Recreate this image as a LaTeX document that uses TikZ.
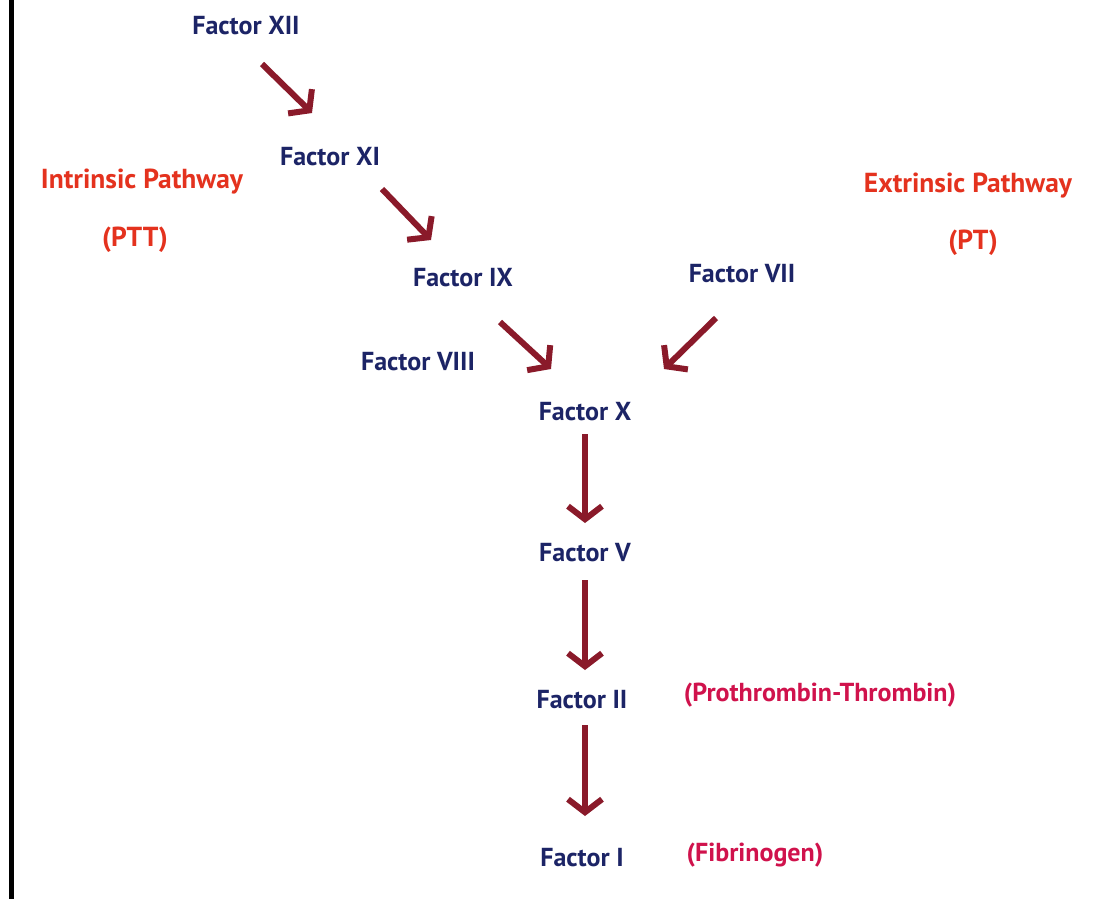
\documentclass[tikz,border=0pt]{standalone}
\usepackage{fontspec}
\setmainfont{PT Sans}
\usetikzlibrary{arrows.meta}
\definecolor{navy}{HTML}{1C2466}
\definecolor{pathred}{HTML}{E4321E}
\definecolor{crim}{HTML}{D0124C}
\definecolor{arr}{HTML}{8A1A2A}
\tikzset{
  fac/.style={font=\bfseries\fontsize{26}{29}\selectfont, text=navy, inner sep=0pt},
  path lbl/.style={font=\bfseries\fontsize{27.5}{30}\selectfont, text=pathred, inner sep=0pt},
  note/.style={font=\bfseries\fontsize{26}{29}\selectfont, text=crim, inner sep=0pt},
  flow/.style={draw=arr, line width=6pt, -{Straight Barb[length=13pt,width=34pt,line width=6pt]}},
}
\begin{document}
\begin{tikzpicture}[x=1pt,y=-1pt]
\useasboundingbox (0,0) rectangle (1114,899);
\fill[white] (0,0) rectangle (1114,899);
\draw[line width=5pt, black] (11,0) -- (11,899);
% nodes
\node[fac] (f12) at (246,26) {Factor XII};
\node[fac] (f11) at (330,157) {Factor XI};
\node[fac] (f9) at (463,278) {Factor IX};
\node[fac] (f7) at (742,274) {Factor VII};
\node[fac] (f8) at (418,362) {Factor VIII};
\node[fac] (f10) at (585,412) {Factor X};
\node[fac] (f5) at (585,553) {Factor V};
\node[fac] (f2) at (582,700) {Factor II};
\node[fac] (f1) at (582,858) {Factor I};
\node[path lbl] (ip) at (142,182) {Intrinsic Pathway};
\node[path lbl] (ptt) at (135,240) {(PTT)};
\node[path lbl] (ep) at (968,186) {Extrinsic Pathway};
\node[path lbl] (pt) at (973,243) {(PT)};
\node[note] (pro) at (820,695) {(Prothrombin-Thrombin)};
\node[note] (fib) at (755,855) {(Fibrinogen)};
% arrow anchors
\coordinate (a1s) at (262,64);  \coordinate (a1e) at (312,113);
\coordinate (a2s) at (382,189); \coordinate (a2e) at (431,240);
\coordinate (a3s) at (500,322); \coordinate (a3e) at (551,369);
\coordinate (a4s) at (716,318); \coordinate (a4e) at (664,369);
\coordinate (a5s) at (585,434); \coordinate (a5e) at (585,523);
\coordinate (a6s) at (585,580); \coordinate (a6e) at (585,670);
\coordinate (a7s) at (585,725); \coordinate (a7e) at (585,816);
\draw[flow] (a1s) -- (a1e);
\draw[flow] (a2s) -- (a2e);
\draw[flow] (a3s) -- (a3e);
\draw[flow] (a4s) -- (a4e);
\draw[flow] (a5s) -- (a5e);
\draw[flow] (a6s) -- (a6e);
\draw[flow] (a7s) -- (a7e);
\end{tikzpicture}
\end{document}
